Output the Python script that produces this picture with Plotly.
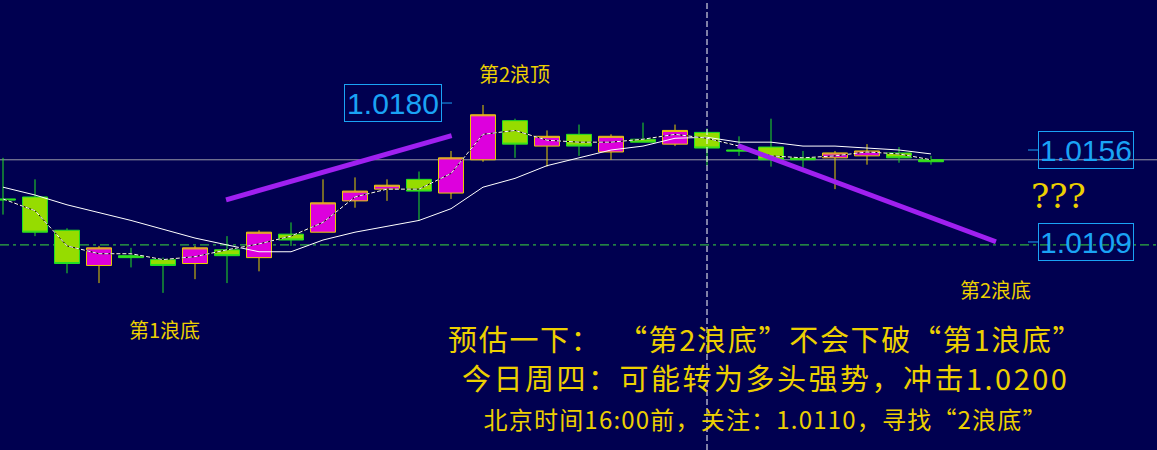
import plotly.graph_objects as go

# ---------------- data (prices) ----------------
idx = list(range(30))
opens  = [1.0131, 1.0132, 1.0115, 1.0097, 1.0102, 1.0100, 1.0098, 1.0105, 1.0101, 1.0113,
          1.0114, 1.0130, 1.0136, 1.0141, 1.0134, 1.0151, 1.0171, 1.0158, 1.0164, 1.0155,
          1.01615, 1.0159, 1.0165, 1.0156, 1.01575, 1.0152, 1.0152, 1.0153, 1.01545, 1.0151]
highs  = [1.0152, 1.0141, 1.0116, 1.0107, 1.0106, 1.0101, 1.0107, 1.0112, 1.0115, 1.0119,
          1.0141, 1.0142, 1.0141, 1.0145, 1.01555, 1.0179, 1.0172, 1.0166, 1.0169, 1.0164,
          1.0170, 1.0169, 1.0167, 1.0163, 1.0172, 1.01555, 1.01555, 1.0159, 1.01575, 1.0153]
lows   = [1.0123, 1.0112, 1.0093, 1.0088, 1.0096, 1.0083, 1.0090, 1.0088, 1.0094, 1.0107,
          1.0114, 1.01265, 1.0130, 1.0120, 1.0131, 1.0150, 1.0152, 1.01475, 1.0153, 1.0151,
          1.0160, 1.0158, 1.0148, 1.0153, 1.01475, 1.0147, 1.0136, 1.01485, 1.01495, 1.01485]
closes = [1.01305, 1.0114, 1.0098, 1.0106, 1.0101, 1.0097, 1.0106, 1.0102, 1.0114, 1.0110,
          1.0129, 1.0135, 1.0138, 1.0135, 1.0152, 1.0174, 1.0159, 1.0163, 1.0158, 1.0163,
          1.0160, 1.0166, 1.0157, 1.01555, 1.0151, 1.0151, 1.01545, 1.01555, 1.0152, 1.0150]

ma_slow = [1.0137, 1.0133, 1.0128, 1.0124, 1.0120, 1.01155, 1.0111, 1.01075, 1.0104, 1.0104,
           1.0110, 1.0114, 1.0117, 1.0120, 1.0126, 1.0137, 1.01415, 1.0148, 1.0152, 1.0156,
           1.0158, 1.0162, 1.01625, 1.0160, 1.0160, 1.0158, 1.0158, 1.0157, 1.0156, 1.0154]
ma_fast = [1.0131, 1.0125, 1.0107, 1.0103, 1.0103, 1.0100, 1.01015, 1.0105, 1.0108, 1.0112,
           1.0119, 1.0132, 1.0136, 1.0136, 1.0144, 1.0164, 1.0166, 1.0161, 1.0160, 1.0160,
           1.01615, 1.0164, 1.0162, 1.0158, 1.0153, 1.0152, 1.0153, 1.0155, 1.0154, 1.0151]

bid_line = 1.0151
support_line = 1.01075
crosshair_idx = 22

trend_up_x = [6.97, 14.02]
trend_up_y = [1.01305, 1.01633]
trend_dn_x = [22.97, 31.03]
trend_dn_y = [1.01582, 1.01091]

price_labels = ["1.0180", "1.0156", "1.0109"]
price_label_values = [1.0180, 1.0156, 1.0109]

wave_labels = ["第2浪顶", "第1浪底", "第2浪底"]
note_lines = ["预估一下：  “第2浪底”不会下破“第1浪底”",
              "今日周四：可能转为多头强势，冲击1.0200",
              "北京时间16:00前，关注：1.0110，寻找“2浪底”"]
note_sizes = [29, 29, 24]
note_spacing = [1.7, 2.5, 1.2]

# ---------------- figure ----------------
W, H = 1157, 450
BG = "#000050"
YEL = "#EDD000"
BLUE = "#1AA3F5"
CJK = "Noto Sans CJK SC"

fig = go.Figure()

fig.add_trace(go.Candlestick(
    x=idx, open=opens, high=highs, low=lows, close=closes,
    increasing=dict(line=dict(color="#E8D000", width=1), fillcolor="#DD00DD"),
    decreasing=dict(line=dict(color="#22E022", width=1), fillcolor="#96DC00"),
    whiskerwidth=0, showlegend=False, hoverinfo="skip"))

fig.add_trace(go.Scatter(x=idx, y=ma_slow, mode="lines",
                         line=dict(color="white", width=1), showlegend=False, hoverinfo="skip"))
fig.add_trace(go.Scatter(x=idx, y=ma_fast, mode="lines",
                         line=dict(color="black", width=1), showlegend=False, hoverinfo="skip"))
fig.add_trace(go.Scatter(x=idx, y=ma_fast, mode="lines",
                         line=dict(color="white", width=1, dash="4px,2px"), showlegend=False, hoverinfo="skip"))

for tx, ty in [(trend_up_x, trend_up_y), (trend_dn_x, trend_dn_y)]:
    fig.add_trace(go.Scatter(x=tx, y=ty, mode="lines",
                             line=dict(color="#A020F0", width=5), showlegend=False, hoverinfo="skip"))

shapes = [
    dict(type="line", xref="paper", x0=0, x1=1, yref="y", y0=bid_line, y1=bid_line,
         line=dict(color="#9A9AA8", width=1), layer="below"),
    dict(type="line", xref="paper", x0=0, x1=1, yref="y", y0=support_line, y1=support_line,
         line=dict(color="#3CDC3C", width=1, dash="9px,4px,3px,4px"), layer="below"),
    dict(type="line", xref="x", x0=crosshair_idx, x1=crosshair_idx, yref="paper", y0=0, y1=1,
         line=dict(color="white", width=1, dash="6px,3px"), layer="above"),
    # small price-tag ticks
    dict(type="line", xref="paper", x0=442 / W, x1=452 / W, yref="y",
         y0=price_label_values[0], y1=price_label_values[0], line=dict(color=BLUE, width=1)),
    dict(type="line", xref="paper", x0=1028 / W, x1=1038 / W, yref="y",
         y0=price_label_values[1], y1=price_label_values[1], line=dict(color=BLUE, width=1)),
    dict(type="line", xref="paper", x0=1028 / W, x1=1038 / W, yref="y",
         y0=price_label_values[2], y1=price_label_values[2], line=dict(color=BLUE, width=1)),
]

annotations = []
label_x = [393, 1086, 1086]
label_w = [94, 92, 92]
for txt, val, px, bw in zip(price_labels, price_label_values, label_x, label_w):
    annotations.append(dict(text=txt, xref="paper", x=px / W, yref="y", y=val,
                            xanchor="center", yanchor="middle", showarrow=False,
                            font=dict(family="Liberation Sans", size=30, color=BLUE),
                            width=bw, height=34, borderpad=1, borderwidth=1, bordercolor=BLUE))

wave_pos = [(514, 73), (164, 329), (995, 289)]
for txt, (px, py) in zip(wave_labels, wave_pos):
    annotations.append(dict(text=txt, xref="paper", x=px / W, yref="paper", y=1 - py / H,
                            xanchor="center", yanchor="middle", showarrow=False,
                            font=dict(family=CJK, size=20, color=YEL)))

annotations.append(dict(text="???", xref="paper", x=1058 / W, yref="paper", y=1 - 196 / H,
                        xanchor="center", yanchor="middle", showarrow=False,
                        font=dict(family="DejaVu Serif", size=34, color=YEL)))

note_text = "<br>".join('<span style="font-size:%dpx;letter-spacing:%.1fpx">%s</span>' % (s, ls, t)
                        for t, s, ls in zip(note_lines, note_sizes, note_spacing))
annotations.append(dict(text=note_text, xref="paper", x=765 / W, yref="paper", y=1 - 376 / H,
                        xanchor="center", yanchor="middle", align="center", showarrow=False,
                        font=dict(family=CJK, size=30, color=YEL)))

y_top = 1.0156 + 150 / 1.957 / 10000
y_bot = 1.0156 - 300 / 1.957 / 10000

fig.update_layout(
    width=W, height=H, margin=dict(l=0, r=0, t=0, b=0),
    paper_bgcolor=BG, plot_bgcolor=BG, showlegend=False,
    boxgap=0.22, boxgroupgap=0,
    xaxis=dict(range=[-3 / 32, (W - 3) / 32], visible=False, showgrid=False, zeroline=False,
               rangeslider=dict(visible=False), fixedrange=True),
    yaxis=dict(range=[y_bot, y_top], visible=False, showgrid=False, zeroline=False, fixedrange=True),
    shapes=shapes, annotations=annotations,
)

fig.write_html("out.html", config={"displayModeBar": False},
               post_script="document.body.style.margin='0';document.body.style.padding='0';"
                           "document.body.style.overflow='hidden';document.body.style.background='%s';" % BG)
